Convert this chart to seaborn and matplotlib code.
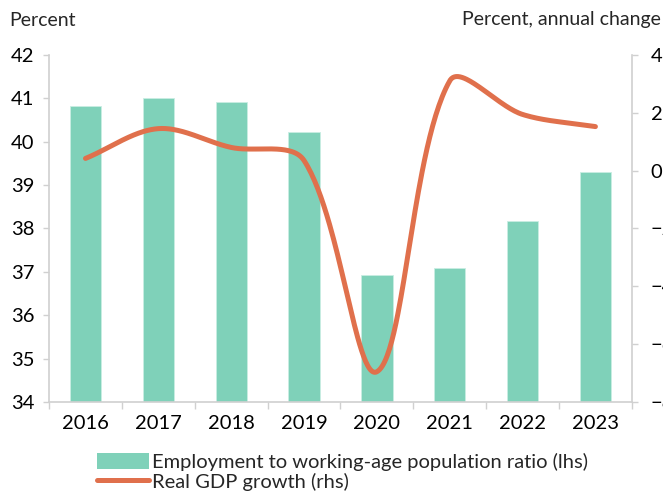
import numpy as np
import matplotlib
matplotlib.use("Agg")
import matplotlib.pyplot as plt
from matplotlib.patches import Patch
from matplotlib.lines import Line2D
import seaborn as sns

years = ["2016", "2017", "2018", "2019", "2020", "2021", "2022", "2023"]
employment_ratio = [40.82, 41.01, 40.92, 40.23, 36.92, 37.09, 38.18, 39.30]
gdp_growth = [0.42, 1.45, 0.80, 0.35, -6.95, 3.10, 1.94, 1.52]
lhs_ticks = [34, 35, 36, 37, 38, 39, 40, 41, 42]
rhs_ticks = [-8, -6, -4, -2, 0, 2, 4]

bar_color = "#7fd1b9"
line_color = "#e0704c"
spine_color = "#d0d0d0"

sns.set_theme(style="white")
plt.rcParams["font.family"] = ["Lato", "DejaVu Sans"]
FS = 14.5
FS_HEAD = 14

fig = plt.figure(figsize=(6.63, 4.94), dpi=100)
ax = fig.add_axes([0.074, 0.186, 0.879, 0.703])
sns.barplot(x=years, y=employment_ratio, color=bar_color, saturation=1,
            width=0.43, ax=ax, edgecolor="#c9ede3", linewidth=0.6)
ax.set_xlim(-0.5, 7.5)
ax.set_ylim(lhs_ticks[0], lhs_ticks[-1])
ax.set_yticks(lhs_ticks)
ax.set_xlabel("")
ax.set_ylabel("")

ax2 = ax.twinx()
ax2.set_ylim(rhs_ticks[0], rhs_ticks[-1])
ax2.set_yticks(rhs_ticks)

# Smoothed line (Excel-like chord-weighted Bezier) computed in display-proportional space
sx = 72.9
sy = 28.9
P = np.column_stack([np.arange(len(gdp_growth)) * sx, np.array(gdp_growth) * sy])
n = len(P)
curve = []
for i in range(n - 1):
    p0, p1 = P[i], P[i + 1]
    pm = P[i - 1] if i > 0 else P[i]
    pp = P[i + 2] if i + 2 < n else P[i + 1]
    L0 = np.linalg.norm(p0 - pm)
    L1 = np.linalg.norm(p1 - p0)
    L2 = np.linalg.norm(pp - p1)
    d0 = (p1 - pm)
    d1 = (pp - p0)
    w0 = L1 / (L0 + L1) if (L0 + L1) > 0 else 0.5
    w1 = L1 / (L1 + L2) if (L1 + L2) > 0 else 0.5
    c1 = p0 + d0 * w0 / 3.0
    c2 = p1 - d1 * w1 / 3.0
    t = np.linspace(0, 1, 60)[:, None]
    seg = ((1 - t) ** 3) * p0 + 3 * ((1 - t) ** 2) * t * c1 + 3 * (1 - t) * t ** 2 * c2 + t ** 3 * p1
    curve.append(seg if i == 0 else seg[1:])
curve = np.vstack(curve)
ax2.plot(curve[:, 0] / sx, curve[:, 1] / sy, color=line_color, lw=3.6,
         solid_capstyle="round", solid_joinstyle="round")

# spines
for s in ["top", "right"]:
    ax.spines[s].set_visible(False)
for s in ["left", "bottom"]:
    ax.spines[s].set_color(spine_color)
    ax.spines[s].set_linewidth(1.2)
for s in ["top", "left", "bottom"]:
    ax2.spines[s].set_visible(False)
ax2.spines["right"].set_color(spine_color)
ax2.spines["right"].set_linewidth(1.2)

ax.tick_params(axis="y", direction="out", length=4.5, width=1.0, color=spine_color,
               labelsize=FS, pad=6, left=True, labelcolor="black")
ax.tick_params(axis="x", which="major", length=0, labelsize=FS, pad=9, labelcolor="black")
ax.set_xticks(np.arange(-0.5, 8.0, 1.0), minor=True)
ax.tick_params(axis="x", which="minor", direction="out", length=5, width=1.0,
               color=spine_color, bottom=True)
ax2.tick_params(axis="y", direction="out", length=4.5, width=1.0, color=spine_color,
                labelsize=FS, pad=9, right=True, labelcolor="black")

fig.text(9 / 663, 1 - 20 / 494, "Percent", ha="left", va="center", fontsize=FS_HEAD)
fig.text(661 / 663, 1 - 20 / 494, "Percent, annual change", ha="right", va="center", fontsize=FS_HEAD)

handles = [Patch(facecolor=bar_color, edgecolor="none"),
           Line2D([0], [0], color=line_color, lw=3.6, solid_capstyle="round")]
labels = ["Employment to working-age population ratio (lhs)", "Real GDP growth (rhs)"]
fig.legend(handles, labels, loc="upper left", bbox_to_anchor=(97 / 663, 1 - 453 / 494),
           frameon=False, fontsize=FS, handlelength=2.6, handleheight=0.85,
           handletextpad=0.15, labelspacing=0.08, borderpad=0, borderaxespad=0)

fig.savefig("out.png", dpi=100)
